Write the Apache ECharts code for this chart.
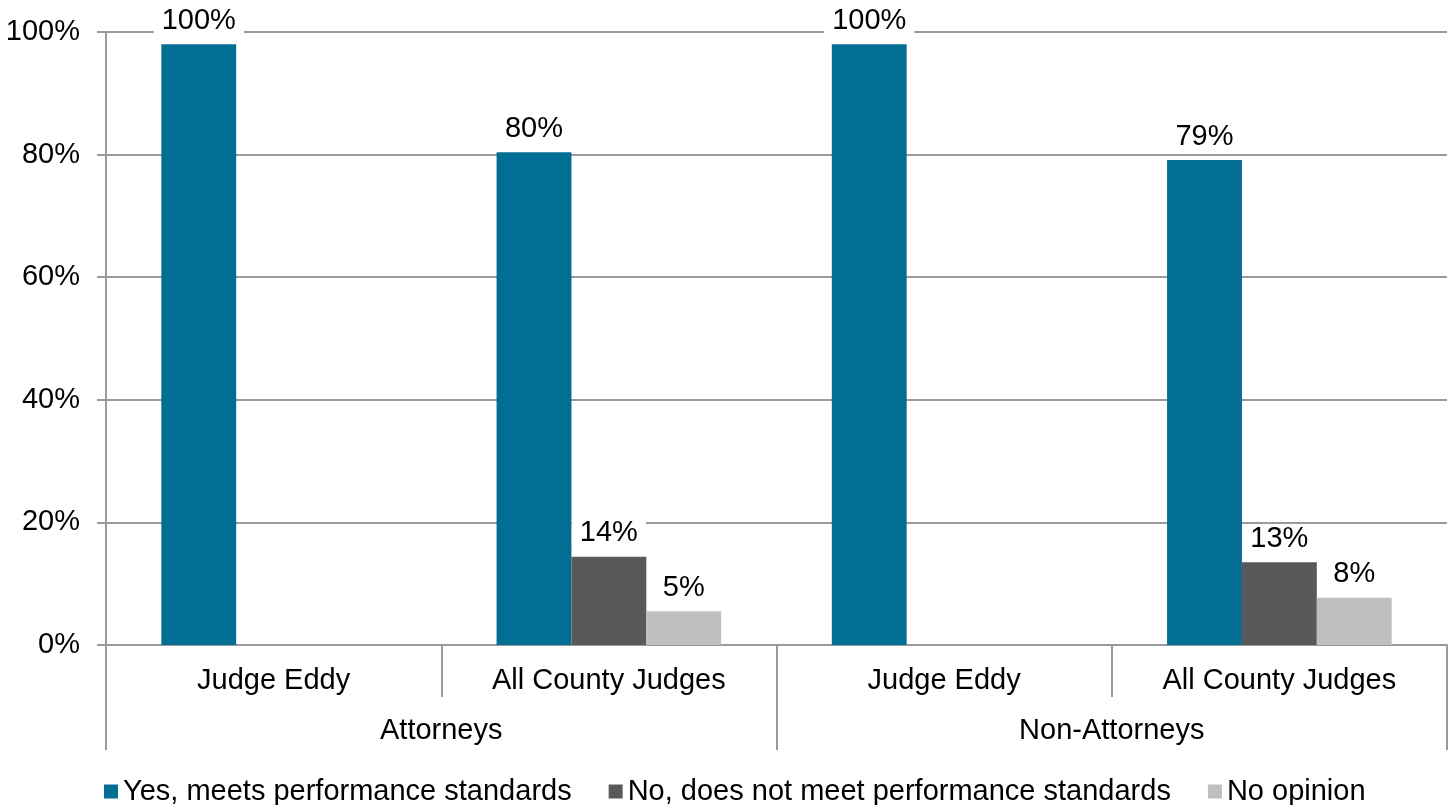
<!DOCTYPE html>
<html>
<head>
<meta charset="utf-8">
<script src="https://cdn.jsdelivr.net/npm/echarts@6/dist/echarts.min.js"></script>
<style>html,body{margin:0;padding:0;background:#fff}#c{width:1453px;height:805px}</style>
</head>
<body>
<div id="c"></div>
<script>
const categories = ['Judge Eddy', 'All County Judges', 'Judge Eddy', 'All County Judges'];
const groups = ['Attorneys', 'Non-Attorneys'];
const seriesNames = ['Yes, meets performance standards', 'No, does not meet performance standards', 'No opinion'];
const yesValues = [98, 80.4, 98, 79.1];
const noValues = [null, 14.4, null, 13.5];
const noOpinionValues = [null, 5.5, null, 7.7];
const yesLabels = ['100%', '80%', '100%', '79%'];
const noLabels = ['', '14%', '', '13%'];
const noOpinionLabels = ['', '5%', '', '8%'];
const yTicks = [0, 20, 40, 60, 80, 100];

const colors = ['#036E93', '#595959', '#BFBFBF'];
const lineColor = '#9a9a9a';
const font = 'Liberation Sans, Arial, sans-serif';
const fs = 29;

function mkSeries(name, data, labels, color) {
  return {
    name: name,
    type: 'bar',
    xAxisIndex: 0,
    data: data,
    itemStyle: { color: color },
    barGap: '0%',
    barCategoryGap: '33%',
    label: {
      show: true,
      position: 'top',
      distance: 9,
      color: '#000',
      fontSize: fs,
      fontFamily: font,
      backgroundColor: '#fff',
      padding: [0, 8],
      formatter: p => labels[p.dataIndex]
    }
  };
}

const chart = echarts.init(document.getElementById('c'));
chart.setOption({
  animation: false,
  color: colors,
  grid: { left: 106, right: 6, top: 32, bottom: 160, containLabel: false },
  legend: {
    left: 99,
    top: 772,
    icon: 'rect',
    itemWidth: 14,
    itemHeight: 14,
    itemGap: 37,
    textStyle: { fontSize: fs, fontFamily: font, color: '#000' },
    data: seriesNames
  },
  xAxis: [
    {
      type: 'category',
      data: categories,
      position: 'bottom',
      axisLine: { show: true, lineStyle: { color: lineColor, width: 2 } },
      axisTick: { show: true, length: 52, lineStyle: { color: lineColor, width: 2 } },
      axisLabel: { fontSize: fs, fontFamily: font, color: '#000', margin: 21 },
      splitLine: { show: false }
    },
    {
      type: 'category',
      data: groups,
      position: 'bottom',
      offset: 105,
      axisLine: { show: false },
      axisTick: { show: true, inside: true, length: 105, lineStyle: { color: lineColor, width: 2 } },
      axisLabel: { inside: true, fontSize: fs, fontFamily: font, color: '#000', margin: 5 },
      splitLine: { show: false }
    }
  ],
  yAxis: {
    type: 'value',
    min: 0,
    max: 100,
    interval: 20,
    axisLine: { show: true, lineStyle: { color: lineColor, width: 2 } },
    axisTick: { show: true, length: 9, lineStyle: { color: lineColor, width: 2 } },
    axisLabel: {
      fontSize: fs, fontFamily: font, color: '#000', margin: 26,
      formatter: v => (yTicks.indexOf(v) >= 0 ? v + '%' : '')
    },
    splitLine: { show: true, lineStyle: { color: lineColor, width: 2 } }
  },
  series: [
    mkSeries(seriesNames[0], yesValues, yesLabels, colors[0]),
    mkSeries(seriesNames[1], noValues, noLabels, colors[1]),
    mkSeries(seriesNames[2], noOpinionValues, noOpinionLabels, colors[2])
  ]
});
</script>
</body>
</html>
